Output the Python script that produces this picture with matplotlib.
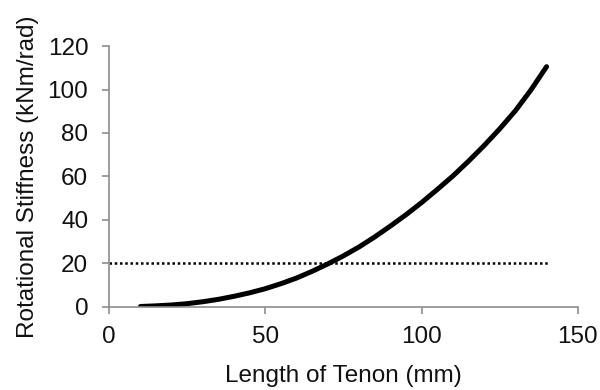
import matplotlib.pyplot as plt

plt.rcParams['font.family'] = ['Liberation Sans', 'DejaVu Sans']

# Rotational stiffness vs tenon length (every 5 mm)
tenon_length = [10, 15, 20, 25, 30, 35, 40, 45, 50, 55, 60, 65, 70, 75,
                80, 85, 90, 95, 100, 105, 110, 115, 120, 125, 130, 135, 140]
stiffness = [0.2, 0.5, 0.9, 1.5, 2.4, 3.5, 4.9, 6.5, 8.4, 10.7, 13.3, 16.4,
             19.8, 23.5, 27.6, 32.2, 37.2, 42.4, 48.0, 54.0, 60.2, 67.0,
             74.2, 81.9, 90.2, 99.8, 110.5]

# 20 kNm/rad reference level
limit_x = [0, 141]
limit_y = [20, 20]

fig = plt.figure(figsize=(6, 3.9), dpi=100)
ax = fig.add_axes([0.182, 0.213, 0.781, 0.669])

ax.plot(tenon_length, stiffness, color='black', linewidth=3.6,
        solid_capstyle='round', solid_joinstyle='round')
ax.plot(limit_x, limit_y, color='black', linewidth=1.8, linestyle=(0, (1, 1.1)))

ax.set_xlim(0, 150)
ax.set_ylim(0, 120)
ax.set_xticks([0, 50, 100, 150])
ax.set_yticks(range(0, 121, 20))

for side in ['top', 'right']:
    ax.spines[side].set_visible(False)
for side in ['left', 'bottom']:
    ax.spines[side].set_color('#8c8c8c')
    ax.spines[side].set_linewidth(1.2)
ax.tick_params(colors='#8c8c8c', labelcolor='#111111', labelsize=17.5, length=5, width=1.2)
ax.tick_params(axis='x', pad=9)
ax.tick_params(axis='y', pad=10)

ax.set_xlabel('Length of Tenon (mm)', fontsize=17.5, labelpad=12, color='#111111')
ax.set_ylabel('Rotational Stiffness (kNm/rad)', fontsize=17.5, labelpad=6, color='#111111')

fig.savefig('out.png', dpi=100)
